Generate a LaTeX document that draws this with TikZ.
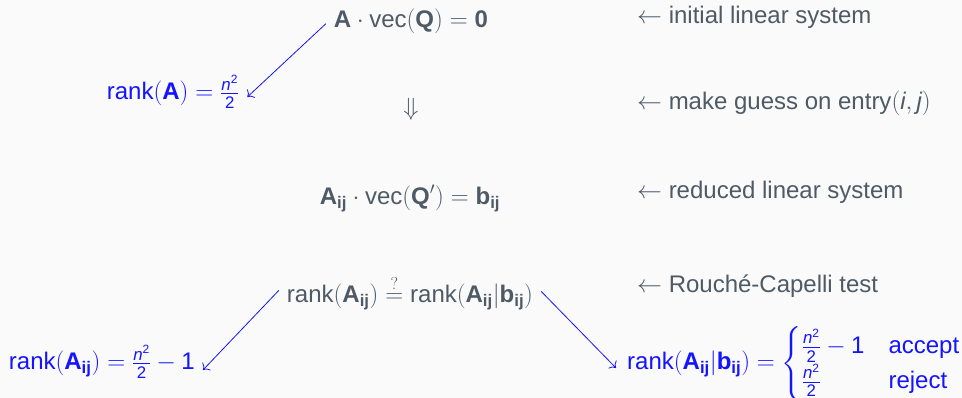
\documentclass[tikz,border=0pt]{standalone}
\usepackage{amsmath}
\usepackage{fontspec}
\setmainfont{Liberation Sans}
\usetikzlibrary{arrows.meta}
\definecolor{bgc}{HTML}{FAFAFA}
\definecolor{txtc}{HTML}{4E5A65}
\definecolor{bluc}{HTML}{1414FF}
\newcommand{\mbA}{\text{\bfseries A}}
\newcommand{\mbb}{\text{\bfseries b}}
\newcommand{\mij}{_{\text{\bfseries ij}}}
\newcommand{\nhalf}{\frac{\text{\itshape n}^{\text{2}}}{\text{2}}}
\begin{document}
\begin{tikzpicture}[x=1pt,y=-1pt,
  lbl/.style={font=\fontsize{24}{28}\selectfont, text=txtc, inner sep=8pt, anchor=base},
  blbl/.style={lbl, text=bluc},
  note/.style={font=\fontsize{24}{28}\selectfont, text=txtc, inner sep=0pt, anchor=base west},
  arr/.style={draw=bluc, line width=0.8pt, -{To[scale=1.6]}}]
\fill[bgc] (0,0) rectangle (962,398);
\useasboundingbox (0,0) rectangle (962,398);

\node[lbl] (top) at (411,28) {$\mbA\cdot\text{vec}(\text{\bfseries Q})=\text{\bfseries 0}$};
\node[blbl] (rankA) at (173,100) {$\text{rank}(\mbA)=\nhalf$};
\node[lbl] (darr) at (411,116) {$\Downarrow$};
\node[lbl] (mid) at (410,205) {$\mbA\mij\cdot\text{vec}(\text{\bfseries Q}')=\mbb\mij$};
\node[lbl] (rc) at (410,303) {$\text{rank}(\mbA\mij)\stackrel{?}{=}\text{rank}(\mbA\mij|\mbb\mij)$};
\node[blbl, anchor=base east] (bl) at (203,370) {$\text{rank}(\mbA\mij)=\nhalf-\text{1}$};
\node[blbl, anchor=base west] (br) at (619,370) {$\text{rank}(\mbA\mij|\mbb\mij)=\begin{cases}\nhalf-\text{1} & \text{accept}\\ \nhalf & \text{reject}\end{cases}$};

\node[note] (n1) at (637,24) {$\leftarrow$ initial linear system};
\node[note] (n2) at (637,110) {$\leftarrow$ make guess on entry$(\text{\itshape i},\text{\itshape j})$};
\node[note] (n3) at (637,199) {$\leftarrow$ reduced linear system};
\node[note] (n4) at (637,293) {$\leftarrow$ Rouché-Capelli test};

\draw[arr] ([yshift=-2pt]top.west) -- ([yshift=3pt]rankA.base east);
\draw[arr] ([yshift=2pt]rc.west) -- (bl.base east);
\draw[arr] ([yshift=1pt]rc.east) -- ([xshift=-3pt,yshift=2pt]br.base west);
\end{tikzpicture}
\end{document}
